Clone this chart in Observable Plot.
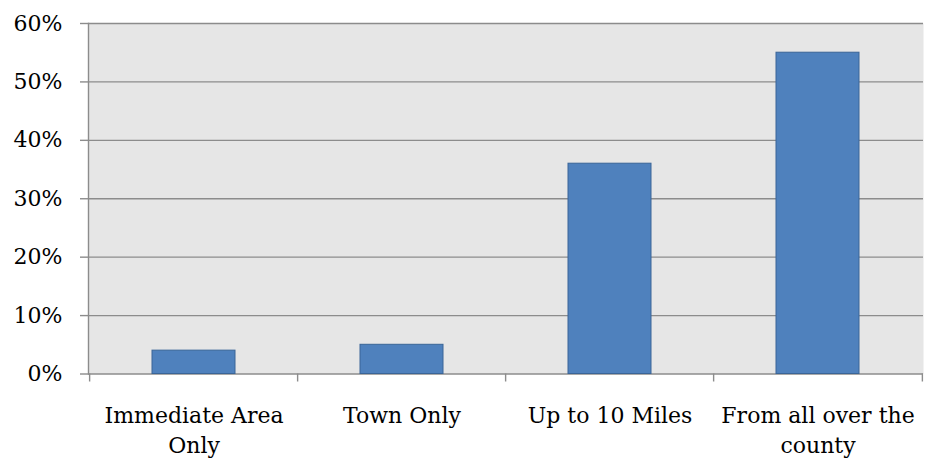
<!DOCTYPE html>
<html><head><meta charset="utf-8">
<script src="https://cdn.jsdelivr.net/npm/d3@7"></script>
<script src="https://cdn.jsdelivr.net/npm/@observablehq/plot@0.6"></script>
<style>body{margin:0;background:#fff}</style>
</head><body><div id="chart"></div>
<script>
const categories = ["Immediate Area Only", "Town Only", "Up to 10 Miles", "From all over the county"];
const values = [0.04, 0.05, 0.36, 0.55];
const tickLabels = ["Immediate Area\nOnly", "Town Only", "Up to 10 Miles", "From all over the\ncounty"];
const yTicks = [0, 0.1, 0.2, 0.3, 0.4, 0.5, 0.6];

const data = categories.map((c, i) => ({category: c, value: values[i], label: tickLabels[i]}));
const width = 929, height = 461, mL = 88, mR = 6, mT = 23, mB = 87.5;
const step = (width - mL - mR) / categories.length;
const grid = "#8c8c8c";

const chart = Plot.plot({
  width, height,
  marginLeft: mL, marginRight: mR, marginTop: mT, marginBottom: mB,
  style: {fontFamily: "DejaVu Serif", fontSize: "22px", color: "black", background: "white"},
  x: {domain: categories, paddingInner: 0.6, paddingOuter: 0.3, axis: null},
  y: {domain: [0, 0.6], ticks: yTicks, tickFormat: d3.format(".0%"), label: null},
  marks: [
    Plot.frame({fill: "#e6e6e6", stroke: null}),
    Plot.ruleY(yTicks, {stroke: grid, strokeWidth: 1.4}),
    Plot.frame({anchor: "left", stroke: grid, strokeWidth: 1.4}),
    Plot.ruleX(data, {x: "category", y1: 0, y2: 0, dx: -step / 2, insetBottom: -8, stroke: grid, strokeWidth: 1.4}),
    Plot.ruleX(data.slice(-1), {x: "category", y1: 0, y2: 0, dx: step / 2, insetBottom: -8, stroke: grid, strokeWidth: 1.4}),
    Plot.barY(data, {x: "category", y: "value", fill: "#4f81bd", stroke: "#3a6597", strokeWidth: 1}),
    Plot.axisY({ticks: yTicks, tickFormat: d3.format(".0%"), tickSize: 8, tickPadding: 18, stroke: grid, strokeWidth: 1.4, label: null, fontSize: 22}),
    Plot.text(data, {x: "category", y: 0, text: "label", dy: 28, lineAnchor: "top", lineHeight: 1.36, fontSize: 22, fill: "black"})
  ]
});
document.getElementById("chart").appendChild(chart);
</script>
</body></html>
